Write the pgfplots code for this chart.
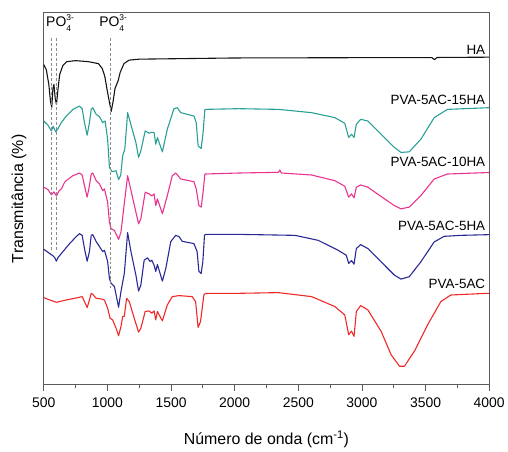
\documentclass[border=0pt]{standalone}
\usepackage{fontspec}
\setmainfont{Liberation Sans}
\usepackage{pgfplots}
\pgfplotsset{compat=1.18}

\definecolor{cHA}{RGB}{20,20,20}
\definecolor{cT}{RGB}{40,160,150}
\definecolor{cM}{RGB}{235,50,140}
\definecolor{cB}{RGB}{40,40,150}
\definecolor{cR}{RGB}{240,40,40}
\definecolor{frame}{RGB}{90,90,90}

% PO4 3- with the charge stacked over the index
\newcommand{\po}{PO{\fontsize{8.5}{10}\selectfont\rlap{\raisebox{6pt}{3-}}\raisebox{-4.5pt}{4}}}

\begin{document}
\begin{tikzpicture}
\begin{axis}[
    scale only axis,
    width=448pt, height=374pt,
    xmin=500, xmax=4000,
    ymin=60, ymax=434,
    xtick={500,1000,...,4000},
    minor x tick num=1,
    xtick pos=bottom,
    tick align=outside,
    major tick length=6pt,
    minor tick length=3.5pt,
    ytick=\empty,
    axis line style={frame, line width=0.9pt},
    every tick/.style={frame, line width=0.8pt},
    tick label style={font=\fontsize{14}{16}\selectfont},
    xticklabel style={yshift=-4pt},
    /pgf/number format/assume math mode=true,
    /pgf/number format/set thousands separator={},
    xlabel={Número de onda (cm\textsuperscript{-1})},
    ylabel={Transmitância (\%)},
    label style={font=\fontsize{16}{18}\selectfont},
    xlabel style={yshift=-16pt},
    ylabel style={yshift=8pt},
    clip=false,
    every axis plot/.append style={line width=1.1pt, line join=round},
]
% HA
\addplot[cHA] coordinates {
(500,382) (520,377) (540,362) (553,345) (563,339) (572,358) (580,362)
(590,348) (600,342) (610,355) (625,372) (650,381) (680,385) (750,386)
(850,385) (930,383) (960,378) (980,370) (1000,355) (1015,345) (1030,335)
(1045,345) (1060,358) (1085,366) (1100,374) (1130,383) (1170,386.5)
(1250,387.5) (2000,388.7) (3000,389) (3550,389) (3570,387) (3590,389.2) (4000,389.5)
};
% PVA-5AC-15HA
\addplot[cT] coordinates {
(500,325.3) (534,321) (560,315.3) (574,320) (594,314.3) (612,317.7) (638,323.7)
(677,330.3) (729,337) (781,340.3) (802,337.7) (820,323.7) (841,311) (859,323.7)
(873,337) (885,338.7) (912,332) (938,329.7) (963,323.7) (982,325.3) (1002,307)
(1016,278.7) (1037,274.3) (1068,275.3) (1088,266.3) (1105,271) (1120,290.3)
(1137,297) (1159,333.7) (1177,325.3) (1224,303.7) (1245,288.7) (1263,295.3)
(1297,315.3) (1328,313) (1349,314) (1367,313.7) (1380,302) (1393,308.7)
(1432,294.3) (1471,317) (1523,337.7) (1549,338.7) (1576,333.7) (1680,330.3)
(1698,323.7) (1713,300.3) (1737,297.7) (1752,313.7) (1766,337) (2031,337.7)
(2344,337) (2604,333.7) (2787,328.7) (2865,323) (2896,308.7) (2918,312)
(2938,308.7) (2956,322) (2990,327) (3047,325.3) (3177,308.7) (3255,298.7)
(3307,293.7) (3372,294.3) (3463,307) (3568,328.7) (3672,337) (4000,338.7)
};
% PVA-5AC-10HA
\addplot[cM] coordinates {
(500,258.7) (534,256.3) (560,251) (580,254) (600,250) (620,255) (638,257)
(664,263.7) (677,265.3) (729,270.3) (781,273) (802,271) (820,260.3) (841,248.7)
(859,260.3) (873,272) (885,273) (912,265.3) (938,262) (963,255.3) (977,257)
(1002,243.7) (1016,223.7) (1029,217) (1055,215.3) (1088,206.3) (1107,213.7)
(1125,233.7) (1159,270.3) (1177,260.3) (1224,233.7) (1245,222) (1263,227)
(1297,253.7) (1328,252) (1349,250) (1367,252) (1380,240.3) (1393,247)
(1432,232) (1471,250.3) (1510,270.3) (1537,273) (1576,267) (1680,264.3)
(1698,257) (1719,240.3) (1737,238.7) (1752,253.7) (1766,272) (2031,273)
(2344,273.7) (2355,276) (2367,273) (2604,271) (2787,265.3) (2865,259.7)
(2896,248.7) (2918,252) (2938,248) (2956,258.7) (2990,261) (3047,258.7)
(3177,247) (3255,240.3) (3307,237) (3372,238.7) (3463,250.3) (3568,267)
(3672,272) (4000,273.5)
};
% PVA-5AC-5HA
\addplot[cB] coordinates {
(500,196.3) (547,192) (573,189.7) (586,188) (599,184.3) (612,188) (651,194)
(703,202) (755,209) (781,212) (802,210.3) (820,197) (841,184.3) (859,194)
(873,210.3) (885,211) (912,204) (938,199) (963,194) (977,195.3) (1002,184)
(1016,167) (1029,162) (1055,159) (1088,138) (1107,154) (1133,172) (1159,213)
(1185,194) (1224,170.3) (1245,154.3) (1263,160.3) (1289,185.3) (1315,187.7)
(1336,184) (1349,185.3) (1367,180.3) (1380,174) (1393,181) (1432,164.3)
(1459,177) (1498,204) (1537,210.3) (1563,209) (1588,204.3) (1680,202)
(1705,194) (1719,174) (1737,172) (1750,184) (1763,210.3) (1771,211.3)
(2031,211.3) (2474,210.3) (2656,205.3) (2813,195.3) (2877,190.3) (2896,182)
(2918,185) (2938,181.3) (2956,197) (2990,201) (3047,197) (3177,180.3)
(3255,170.3) (3307,166.3) (3372,168.7) (3463,183.7) (3568,203.7) (3646,209.3)
(3776,210.3) (4000,211)
};
% PVA-5AC
\addplot[cR] coordinates {
(500,147.7) (547,145.3) (599,143) (677,145.3) (768,147.7) (802,148.7) (820,143.7)
(841,137.7) (859,145.3) (873,152) (885,151) (912,147) (951,146.3) (977,145.3)
(1002,137) (1021,127) (1041,125.3) (1068,117) (1088,109.3) (1107,118.7)
(1120,128.7) (1133,129) (1151,147) (1172,143.7) (1211,127) (1245,113)
(1263,117) (1297,133.7) (1328,134.3) (1349,132) (1367,134.3) (1380,125.3)
(1393,133.7) (1432,124.3) (1471,140.3) (1510,148.7) (1563,149.7) (1666,148.7)
(1693,143.7) (1713,117.7) (1732,123.7) (1758,150.3) (1771,152) (2031,152)
(2344,152.7) (2604,148.7) (2787,138.7) (2865,130.3) (2896,110.3) (2918,114)
(2938,108.7) (2956,133.7) (2990,139.7) (3047,135.3) (3151,113.7) (3229,90.3)
(3295,78.7) (3334,78.7) (3412,93.7) (3516,120.3) (3620,143.7) (3698,150.3)
(3984,152) (4000,152)
};
% reference lines
\draw[frame!70, line width=0.8pt, dash pattern=on 3pt off 2pt] (axis cs:559,409) -- (axis cs:559,194);
\draw[frame!70, line width=0.8pt, dash pattern=on 3pt off 2pt] (axis cs:596,409) -- (axis cs:596,194);
\draw[frame!70, line width=0.8pt, dash pattern=on 3pt off 2pt] (axis cs:1022,409) -- (axis cs:1022,157);
\node[anchor=west, inner sep=0pt, font=\fontsize{14}{16}\selectfont] at (axis cs:518,424) {\po};
\node[anchor=west, inner sep=0pt, font=\fontsize{14}{16}\selectfont] at (axis cs:935,424) {\po};
% curve labels
\begin{scope}[every node/.style={anchor=east, inner sep=0pt, font=\fontsize{13.5}{15}\selectfont}]
\node at (axis cs:3970,397) {HA};
\node at (axis cs:3970,347) {PVA-5AC-15HA};
\node at (axis cs:3970,284) {PVA-5AC-10HA};
\node at (axis cs:3970,220) {PVA-5AC-5HA};
\node at (axis cs:3970,162) {PVA-5AC};
\end{scope}
\end{axis}
\path[use as bounding box] ([xshift=-44pt,yshift=-60pt]current axis.south west) rectangle ([xshift=16pt,yshift=13pt]current axis.north east);
\end{tikzpicture}
\end{document}
